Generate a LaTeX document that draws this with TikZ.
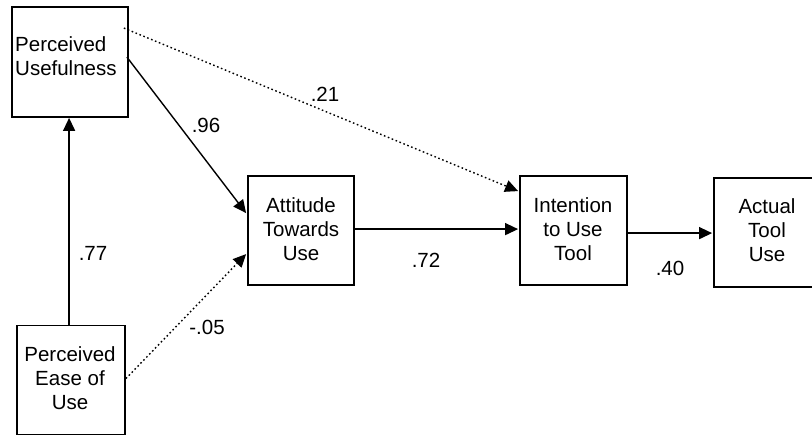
\documentclass[tikz,border=0pt]{standalone}
\usepackage{fontspec}
\setmainfont{Liberation Sans}
\usetikzlibrary{arrows.meta,calc}
\begin{document}
\begin{tikzpicture}[x=1pt,y=-1pt,
  box/.style={draw, line width=1.8pt, minimum width=#1, minimum height=109pt, inner sep=0pt},
  txt/.style={font=\fontsize{20.5}{24}\selectfont, inner sep=0pt, align=center},
  lbl/.style={font=\fontsize{20.5}{24}\selectfont, inner sep=0pt},
  conn/.style={line width=1.4pt, -{Triangle[length=13pt,width=12pt]}},
  dotconn/.style={conn, dash pattern=on 1.6pt off 2.6pt}]
\useasboundingbox (0,0) rectangle (812,435);
% boxes
\node[box=116pt, minimum height=110pt] (pu) at (70,62) {};
\node[box=108pt] (peu) at (71,380) {};
\node[box=106pt] (att) at (301,230.5) {};
\node[box=107pt] (int) at (573.5,230.5) {};
\node[box=106pt] (act) at (767,232.5) {};
% texts
\node[txt, anchor=west, align=left] (put) at (15,56.5) {Perceived\\Usefulness};
\node[txt] (peut) at (70,378) {Perceived\\Ease of\\Use};
\node[txt] (attt) at (301,229) {Attitude\\Towards\\Use};
\node[txt] (intt) at (573,229) {Intention\\to Use\\Tool};
\node[txt] (actt) at (767,230) {Actual\\Tool\\Use};
% connector end points
\coordinate (puA) at ($(pu.north east)+(-5,22)$);
\coordinate (puB) at ($(pu.north east)+(-2,51)$);
\coordinate (peuA) at ($(peu.north west)+(53,0)$);
\coordinate (puC) at ($(pu.south west)+(58,0)$);
\coordinate (peuB) at ($(peu.north east)+(0,54)$);
\coordinate (attA) at ($(att.north west)+(-1,38)$);
\coordinate (attB) at ($(att.north west)+(-1,79)$);
\coordinate (attC) at ($(att.north east)+(0,54)$);
\coordinate (intA) at ($(int.north west)+(-1,16)$);
\coordinate (intB) at ($(int.north west)+(-1,54)$);
\coordinate (intC) at ($(int.north east)+(0,58)$);
\coordinate (actA) at ($(act.north west)+(-1,56)$);
% connectors
\draw[conn] (peuA) -- (puC);
\draw[conn] (puB) -- (attA);
\draw[dotconn] (puA) -- (intA);
\draw[dotconn] (peuB) -- (attB);
\draw[conn] (attC) -- (intB);
\draw[conn] (intC) -- (actA);
% labels
\node[lbl] (l77) at (93,253) {.77};
\node[lbl] (l96) at (206,125) {.96};
\node[lbl] (l21) at (325,94) {.21};
\node[lbl] (l05) at (207,327) {-.05};
\node[lbl] (l72) at (426,260) {.72};
\node[lbl] (l40) at (670,268) {.40};
\end{tikzpicture}
\end{document}
